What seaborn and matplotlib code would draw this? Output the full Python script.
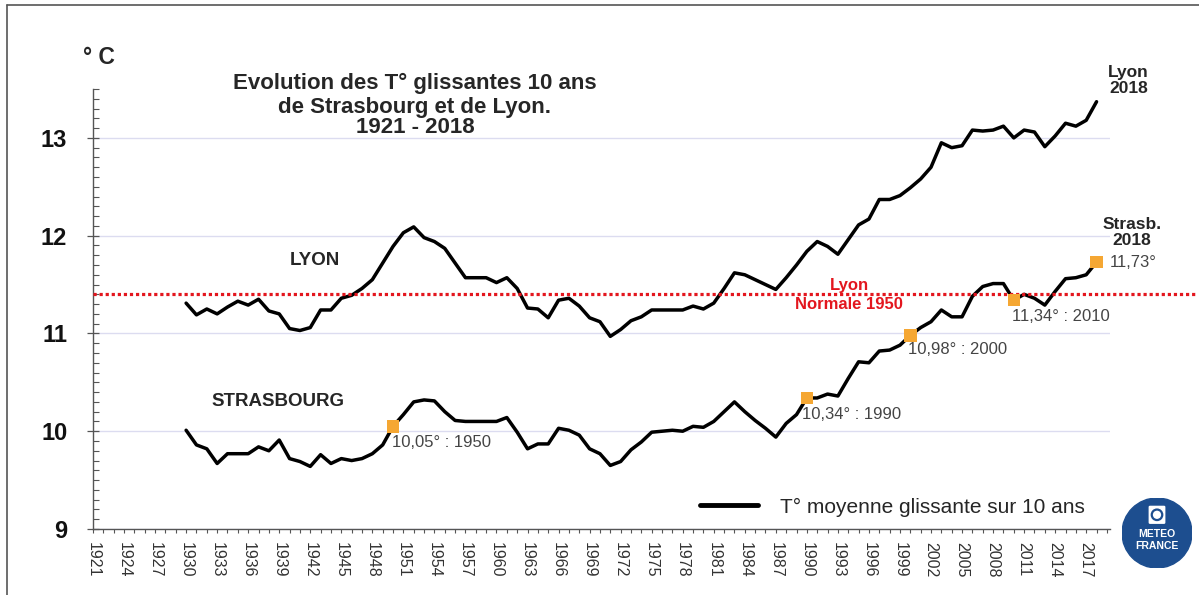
import numpy as np
import pandas as pd
import seaborn as sns
import matplotlib.pyplot as plt
from matplotlib.patches import Circle, FancyBboxPatch
from matplotlib.ticker import MultipleLocator

# Data
annees = list(range(1930, 2019))
lyon = [11.31, 11.19, 11.25, 11.20, 11.27, 11.33, 11.29, 11.35, 11.23, 11.20,
        11.05, 11.03, 11.06, 11.24, 11.24, 11.36, 11.39, 11.46, 11.55, 11.72,
        11.89, 12.03, 12.09, 11.98, 11.94, 11.87, 11.72, 11.57, 11.57, 11.57,
        11.52, 11.57, 11.46, 11.26, 11.25, 11.16, 11.34, 11.36, 11.28, 11.16,
        11.12, 10.97, 11.04, 11.13, 11.17, 11.24, 11.24, 11.24, 11.24, 11.28,
        11.25, 11.31, 11.46, 11.62, 11.60, 11.55, 11.50, 11.45, 11.57, 11.70,
        11.84, 11.94, 11.89, 11.81, 11.96, 12.11, 12.17, 12.37, 12.37, 12.41,
        12.49, 12.58, 12.70, 12.95, 12.90, 12.92, 13.08, 13.07, 13.08, 13.12,
        13.00, 13.08, 13.06, 12.91, 13.02, 13.15, 13.12, 13.18, 13.37]
strasbourg = [10.01, 9.86, 9.82, 9.67, 9.77, 9.77, 9.77, 9.84, 9.80, 9.91,
              9.72, 9.69, 9.64, 9.76, 9.67, 9.72, 9.70, 9.72, 9.77, 9.86,
              10.05, 10.17, 10.30, 10.32, 10.31, 10.20, 10.11, 10.10, 10.10, 10.10,
              10.10, 10.14, 9.99, 9.82, 9.87, 9.87, 10.03, 10.01, 9.96, 9.82,
              9.77, 9.65, 9.69, 9.81, 9.89, 9.99, 10.00, 10.01, 10.00, 10.05,
              10.04, 10.10, 10.20, 10.30, 10.20, 10.11, 10.03, 9.94, 10.08, 10.17,
              10.34, 10.34, 10.38, 10.36, 10.54, 10.71, 10.70, 10.82, 10.83, 10.88,
              10.98, 11.06, 11.12, 11.24, 11.17, 11.17, 11.38, 11.48, 11.51, 11.51,
              11.34, 11.40, 11.36, 11.29, 11.43, 11.56, 11.57, 11.60, 11.73]

reperes_annees = [1950, 1990, 2000, 2010, 2018]
reperes_valeurs = [10.05, 10.34, 10.98, 11.34, 11.73]
reperes_textes = ["10,05° : 1950", "10,34° : 1990", "10,98° : 2000", "11,34° : 2010", "11,73°"]

normale_lyon_1950 = 11.40
annees_ticks = list(range(1921, 2018, 3))
titre = ["Evolution des T° glissantes 10 ans", "de Strasbourg et de Lyon.", "1921 - 2018"]

df = pd.DataFrame({"annee": annees, "Lyon": lyon, "Strasbourg": strasbourg})
df_rep = pd.DataFrame({"annee": reperes_annees, "temp": reperes_valeurs})

sns.set_theme(style="white")
plt.rcParams["font.family"] = ["Liberation Sans", "DejaVu Sans"]

fig = plt.figure(figsize=(11.99, 5.95), dpi=100)
ax = fig.add_axes([93 / 1199, 1 - 529 / 595, 1017 / 1199, (529 - 89) / 595])

# Lines
sns.lineplot(data=df, x="annee", y="Lyon", color="black", lw=2.5, ax=ax,
             label="T° moyenne glissante sur 10 ans")
sns.lineplot(data=df, x="annee", y="Strasbourg", color="black", lw=2.5, ax=ax, legend=False)

# Orange markers on Strasbourg
sns.scatterplot(data=df_rep, x="annee", y="temp", marker="s", s=80, color="#F5A733",
                edgecolor="none", zorder=5, ax=ax, legend=False)

# Red dotted normal line (runs past the axes)
ax.plot([0, 1.0836], [normale_lyon_1950, normale_lyon_1950], transform=ax.get_yaxis_transform(),
        clip_on=False, color="#E3161E", lw=2.3, ls=(0, (1, 0.9)), dash_capstyle="butt", zorder=3)
ax.text(1994.1, 11.49, "Lyon", color="#E3161E", fontsize=12, fontweight="bold", ha="center", va="center")
ax.text(1994.1, 11.30, "Normale 1950", color="#E3161E", fontsize=12, fontweight="bold",
        ha="center", va="center")

# Axes
ax.set_xlim(1921, 2019.3)
ax.set_ylim(9, 13.5)
ax.set_xlabel("")
ax.set_ylabel("")
ax.set_xticks(annees_ticks)
ax.set_xticklabels([str(a) for a in annees_ticks], rotation=270, fontsize=11.5, color="#333333")
ax.xaxis.set_minor_locator(MultipleLocator(1))
ax.set_yticks([9, 10, 11, 12, 13])
ax.set_yticklabels(["9", "10", "11", "12", "13"], fontsize=17, fontweight="bold", color="#111111")
ax.yaxis.set_minor_locator(MultipleLocator(0.1))
ax.tick_params(axis="x", which="both", direction="out", length=3, width=0.8, color="#555555",
               pad=6, bottom=True)
ax.tick_params(axis="y", which="major", direction="inout", length=9, width=0.9, color="#555555",
               pad=14, left=True)
ax.tick_params(axis="y", which="minor", direction="in", length=4.5, width=0.8, color="#555555", left=True)
ax.yaxis.grid(True, color="#DCDCF0", lw=1)
ax.xaxis.grid(False)
for s in ["top", "right"]:
    ax.spines[s].set_visible(False)
for s in ["left", "bottom"]:
    ax.spines[s].set_color("#555555")
    ax.spines[s].set_linewidth(1)

# Marker labels
offsets = [(-0.7, -6), (-3.6, -6.5), (-2, -5), (-1, -6.5), (9.4, 0)]
for x, y, t, off in zip(reperes_annees, reperes_valeurs, reperes_textes, offsets):
    va = "center" if t == "11,73°" else "top"
    ax.annotate(t, (x, y), xytext=off, textcoords="offset points", fontsize=12,
                color="#444444", ha="left", va=va)

# Series names
ax.text(1942.4, 11.75, "LYON", fontsize=13.5, fontweight="bold", ha="center", va="center")
ax.text(1938.9, 10.30, "STRASBOURG", fontsize=13.5, fontweight="bold", ha="center", va="center")
ax.text(2021.1, 13.59, "Lyon\n2018", fontsize=12.5, fontweight="bold", ha="center", va="center",
        linespacing=1.05)
ax.text(2021.4, 12.03, "Strasb.\n2018", fontsize=12.5, fontweight="bold", ha="center", va="center",
        linespacing=1.05)

# Legend
handles, labels = ax.get_legend_handles_labels()
leg = ax.legend(handles[:1], labels[:1], loc="center left", bbox_to_anchor=(700 / 1199, 1 - 507 / 595),
                bbox_transform=fig.transFigure, frameon=False, fontsize=15, handlelength=2.8,
                handletextpad=1.05, borderpad=0, borderaxespad=0)
leg.get_lines()[0].set_linewidth(3.5)

# Title and unit
for ligne, base in zip(titre, [89, 113, 133]):
    fig.text(415 / 1199, 1 - base / 595, ligne, fontsize=16, fontweight="bold",
             ha="center", va="baseline")
fig.text(99 / 1199, 1 - 58 / 595, "° C", fontsize=16.5, fontweight="bold", ha="center", va="center")

# Frame around the picture
fig.add_artist(plt.Line2D([7 / 1199, 7 / 1199], [0, 1 - 5 / 595], color="#555555", lw=1.2))
fig.add_artist(plt.Line2D([7 / 1199, 1], [1 - 5 / 595, 1 - 5 / 595], color="#555555", lw=1.2))

# Meteo France logo
axl = fig.add_axes([1122 / 1199, 1 - 568 / 595, 70 / 1199, 70 / 595])
axl.set_xlim(0, 1)
axl.set_ylim(0, 1)
axl.set_aspect("equal")
axl.axis("off")
axl.add_patch(Circle((0.5, 0.5), 0.5, color="#1D4E8F"))
axl.add_patch(FancyBboxPatch((0.40, 0.65), 0.20, 0.22, boxstyle="round,pad=0.01", color="white"))
axl.add_patch(Circle((0.5, 0.76), 0.075, facecolor="none", edgecolor="#1D4E8F", lw=1.6))
axl.text(0.5, 0.48, "METEO", color="white", fontsize=7.5, fontweight="bold", ha="center", va="center")
axl.text(0.5, 0.31, "FRANCE", color="white", fontsize=7.5, fontweight="bold", ha="center", va="center")

fig.savefig("out.png", dpi=100)
